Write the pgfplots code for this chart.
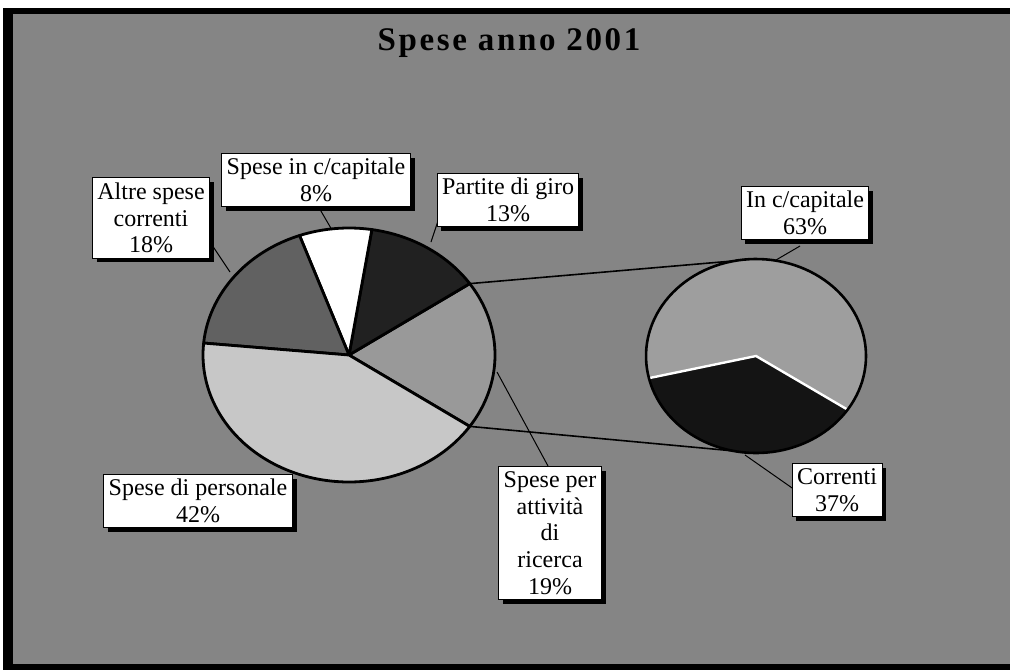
\documentclass[border=0pt]{standalone}
\usepackage{fontspec}
\setmainfont{Liberation Serif}
\usepackage{pgfplots}
\pgfplotsset{compat=1.18}
\usetikzlibrary{shadows}
\definecolor{bg}{gray}{0.52}
\definecolor{cRic}{gray}{0.60}
\definecolor{cPar}{gray}{0.13}
\definecolor{cCap}{gray}{1.00}
\definecolor{cAlt}{gray}{0.38}
\definecolor{cPer}{gray}{0.78}
\definecolor{cInc}{gray}{0.62}
\definecolor{cCor}{gray}{0.08}
% slice: cx, cy, rx, ry, start, end, colour
\newcommand{\slice}[7]{%
  \addplot[draw=black,line width=1.4pt,line join=round,fill=#7,domain=#5:#6,samples=90,variable=\t]
    ({#1+#3*cos(\t)},{#2-#4*sin(\t)}) -- (axis cs:#1,#2) -- cycle;}
\newcommand{\fslice}[7]{%
  \addplot[draw=none,fill=#7,domain=#5:#6,samples=90,variable=\t]
    ({#1+#3*cos(\t)},{#2-#4*sin(\t)}) -- (axis cs:#1,#2) -- cycle;}
\tikzset{lbl/.style={draw=black,line width=0.5pt,fill=white,align=center,
  font=\fontsize{12}{13.3}\selectfont,inner xsep=2.5pt,inner ysep=2.5pt,
  drop shadow={shadow xshift=2.2pt,shadow yshift=-2.2pt,fill=black,opacity=1}}}
% main pie (percent)
\def\pRic{19}\def\pPar{13}\def\pCap{8}\def\pAlt{18}\def\pPer{42}
% second pie (percent of "Spese per attivita di ricerca")
\def\pInc{63}\def\pCor{37}
\pgfmathsetmacro{\aA}{-1.8*\pRic}
\pgfmathsetmacro{\aB}{\aA+3.6*\pRic}
\pgfmathsetmacro{\aC}{\aB+3.6*\pPar}
\pgfmathsetmacro{\aD}{\aC+3.6*\pCap}
\pgfmathsetmacro{\aE}{\aD+3.6*\pAlt}
\pgfmathsetmacro{\aF}{\aE+3.6*\pPer}
\pgfmathsetmacro{\bA}{193.2}
\pgfmathsetmacro{\bB}{\bA+3.6*\pCor}
\pgfmathsetmacro{\bC}{\bB+3.6*\pInc}
% geometry (reference pixels)
\def\cx{349}\def\cy{355}\def\rx{146}\def\ry{127}
\def\dx{756}\def\dy{356}\def\sx{110}\def\sy{97}
\pgfmathsetmacro{\tX}{\cx+\rx*cos(\aB)}\pgfmathsetmacro{\tY}{\cy-\ry*sin(\aB)}
\pgfmathsetmacro{\uX}{\cx+\rx*cos(\aA)}\pgfmathsetmacro{\uY}{\cy-\ry*sin(\aA)}
\pgfmathsetmacro{\vX}{\dx+\sx*cos(\bA)}\pgfmathsetmacro{\vY}{\dy-\sy*sin(\bA)}
\pgfmathsetmacro{\wX}{\dx+\sx*cos(\bB)}\pgfmathsetmacro{\wY}{\dy-\sy*sin(\bB)}
\pgfmathsetmacro{\topY}{\dy-\sy}\pgfmathsetmacro{\botY}{\dy+\sy}
\begin{document}
\begin{tikzpicture}
\begin{axis}[width=505pt,height=335pt,scale only axis,
  xmin=0,xmax=1010,ymin=0,ymax=670,y dir=reverse,
  axis lines=none,ticks=none,clip=false]
% background and frame
\fill[white] (axis cs:0,0) rectangle (axis cs:1010,670);
\fill[bg] (axis cs:8,9) rectangle (axis cs:1010,666);
\fill[black] (axis cs:3,8) rectangle (axis cs:13,670);
\fill[black] (axis cs:3,8) rectangle (axis cs:1010,14);
\fill[black] (axis cs:3,664) rectangle (axis cs:1010,670);
% title
\node[font=\fontsize{16.5}{18}\selectfont\bfseries\addfontfeature{LetterSpace=8}] at (axis cs:509,43) {Spese anno 2001};
% connector lines
\addplot[black,line width=0.8pt] coordinates {(\tX,\tY) (\dx,\topY)};
\addplot[black,line width=0.8pt] coordinates {(\uX,\uY) (\dx,\botY)};
% main pie
\slice{\cx}{\cy}{\rx}{\ry}{\aA}{\aB}{cRic}
\slice{\cx}{\cy}{\rx}{\ry}{\aB}{\aC}{cPar}
\slice{\cx}{\cy}{\rx}{\ry}{\aC}{\aD}{cCap}
\slice{\cx}{\cy}{\rx}{\ry}{\aD}{\aE}{cAlt}
\slice{\cx}{\cy}{\rx}{\ry}{\aE}{\aF}{cPer}
% second pie
\fslice{\dx}{\dy}{\sx}{\sy}{\bA}{\bB}{cCor}
\fslice{\dx}{\dy}{\sx}{\sy}{\bB}{\bC}{cInc}
\addplot[white,line width=1.2pt] coordinates {(\vX,\vY) (\dx,\dy) (\wX,\wY)};
\addplot[black,line width=1.3pt,domain=0:360,samples=120,variable=\t] ({\dx+\sx*cos(\t)},{\dy-\sy*sin(\t)});
% leader lines
\addplot[black,line width=0.5pt] coordinates {(318,206) (332,230)};
\addplot[black,line width=0.5pt] coordinates {(441,212) (431,242)};
\addplot[black,line width=0.5pt] coordinates {(206,236) (230,272)};
\addplot[black,line width=0.5pt] coordinates {(497,372) (548,466)};
\addplot[black,line width=0.5pt] coordinates {(800,246) (776,260)};
\addplot[black,line width=0.5pt] coordinates {(745,455) (795,490)};
% labels
\node[lbl] at (axis cs:151,218) {Altre spese\\correnti\\18\%};
\node[lbl] at (axis cs:316,180) {Spese in c/capitale\\8\%};
\node[lbl] at (axis cs:508,200) {Partite di giro\\13\%};
\node[lbl] at (axis cs:805,213) {In c/capitale\\63\%};
\node[lbl] at (axis cs:198,501) {Spese di personale\\42\%};
\node[lbl] at (axis cs:550,533) {Spese per\\attività\\di\\ricerca\\19\%};
\node[lbl] at (axis cs:837,490) {Correnti\\37\%};
\end{axis}
\end{tikzpicture}
\end{document}
